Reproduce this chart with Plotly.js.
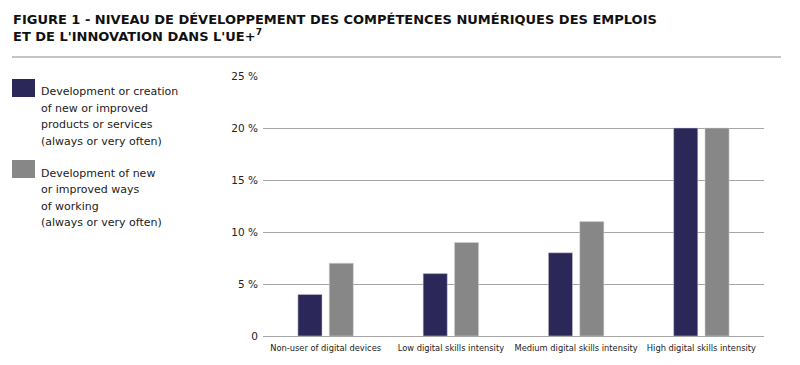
<!DOCTYPE html>
<html>
<head>
<meta charset="utf-8">
<script src="https://cdn.plot.ly/plotly-3.0.1.min.js"></script>
<style>html,body{margin:0;padding:0;background:#fff;}#chart{width:800px;height:365px;}</style>
</head>
<body>
<div id="chart"></div>
<script>
const categories = ["Non-user of digital devices", "Low digital skills intensity", "Medium digital skills intensity", "High digital skills intensity"];
const productsServices = [4, 6, 8, 20];
const waysOfWorking = [7, 9, 11, 20];
const seriesNames = ["Development or creation<br>of new or improved<br>products or services<br>(always or very often)", "Development of new<br>or improved ways<br>of working<br>(always or very often)"];
const tickValues = [0, 5, 10, 15, 20, 25];
const tickLabels = ["0", "5 %", "10 %", "15 %", "20 %", "25 %"];
const titleText = "FIGURE 1 - NIVEAU DE DÉVELOPPEMENT DES COMPÉTENCES NUMÉRIQUES DES EMPLOIS<br>ET DE L'INNOVATION DANS L'UE+<sup>7</sup>";

const FONT = "'DejaVu Sans', sans-serif";
const colors = ["#2b2759", "#878787"];

const L = 263, R = 764, T = 76, B = 336;
const W = 800, H = 365;
const px = x => (x - L) / (R - L);
const py = y => (B - y) / (B - T);

const traces = [
  {type: "bar", x: categories, y: productsServices, name: seriesNames[0].replace(/<br>/g, " "), marker: {color: colors[0], line: {color: "#d0d0e0", width: 0.5}}, hoverinfo: "y"},
  {type: "bar", x: categories, y: waysOfWorking, name: seriesNames[1].replace(/<br>/g, " "), marker: {color: colors[1], line: {color: "#d8d8d8", width: 0.5}}, hoverinfo: "y"}
];

const annotations = [
  {xref: "paper", yref: "paper", x: px(11), y: py(10), xanchor: "left", yanchor: "top", align: "left", showarrow: false,
   text: titleText, font: {family: FONT, size: 13, color: "#111", weight: "bold", stretch: "condensed"}}
];
const legendTops = [91.7, 173];
seriesNames.forEach((name, i) => {
  name.split("<br>").forEach((line, j) => {
    annotations.push({xref: "paper", yref: "paper", x: px(39), y: py(legendTops[i] + j * 16.6), xanchor: "left", yanchor: "middle",
      align: "left", showarrow: false, text: line, font: {family: FONT, size: 11, color: "#222", stretch: "condensed"}});
  });
});

const layout = {
  width: W, height: H,
  margin: {l: L, r: W - R, t: T, b: H - B, pad: 0},
  paper_bgcolor: "#fff", plot_bgcolor: "#fff",
  showlegend: false,
  barmode: "group",
  bargap: 0.5,
  bargroupgap: 0.23,
  font: {family: FONT, color: "#222", stretch: "condensed"},
  xaxis: {
    showgrid: false, showline: false, zeroline: false, ticks: "", tickangle: 0,
    ticklabelstandoff: 6,
    tickfont: {family: FONT, size: 8.3, color: "#222", stretch: "condensed"},
    automargin: false
  },
  yaxis: {
    range: [0, 25], tickvals: tickValues, ticktext: tickLabels,
    showgrid: true, gridcolor: "#a6a6a6", gridwidth: 1,
    zeroline: true, zerolinecolor: "#a6a6a6", zerolinewidth: 1,
    showline: false, ticks: "", ticklen: 0, ticklabelstandoff: 4,
    tickfont: {family: FONT, size: 10.5, color: "#222", stretch: "condensed"},
    automargin: false
  },
  shapes: [
    {type: "line", xref: "paper", yref: "paper", x0: px(12), x1: px(781), y0: py(57), y1: py(57), line: {color: "#8a8a8a", width: 1}},
    {type: "rect", xref: "paper", yref: "paper", x0: px(12), x1: px(35), y0: py(79), y1: py(97), fillcolor: colors[0], line: {width: 0}},
    {type: "rect", xref: "paper", yref: "paper", x0: px(12), x1: px(35), y0: py(160), y1: py(178), fillcolor: colors[1], line: {width: 0}}
  ],
  annotations: annotations
};

Plotly.newPlot("chart", traces, layout, {displayModeBar: false, staticPlot: true});
</script>
</body>
</html>
